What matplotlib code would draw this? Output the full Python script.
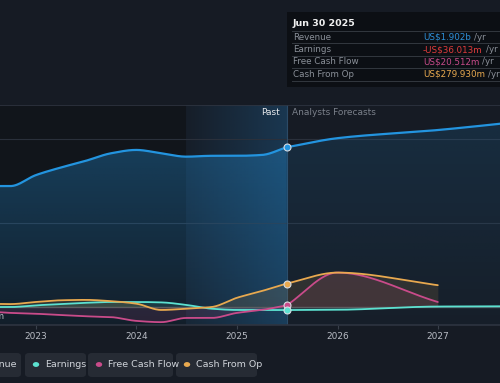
import numpy as np
import pandas as pd
import matplotlib
matplotlib.use("Agg")
import matplotlib.pyplot as plt
import matplotlib.dates as mdates
from matplotlib.colors import to_rgb
from matplotlib.patches import Rectangle, FancyBboxPatch, Circle

# values in US$ billions
past_dates = ["2022-06-30", "2022-09-30", "2022-12-31", "2023-03-31", "2023-06-30",
              "2023-09-30", "2023-12-31", "2024-03-31", "2024-06-30", "2024-09-30",
              "2024-12-31", "2025-03-31", "2025-06-30"]
revenue_past = [1.44, 1.44, 1.57, 1.66, 1.74, 1.83, 1.87, 1.83, 1.79, 1.80, 1.80, 1.81, 1.902]
earnings_past = [0.0, 0.0, 0.02, 0.035, 0.05, 0.06, 0.06, 0.055, 0.025, -0.02, -0.035, -0.035, -0.036]
fcf_past = [-0.05, -0.07, -0.08, -0.095, -0.11, -0.12, -0.165, -0.18, -0.13, -0.13, -0.07, -0.035, 0.0205]
cfo_past = [0.04, 0.035, 0.06, 0.08, 0.085, 0.07, 0.04, -0.035, -0.02, 0.0, 0.11, 0.19, 0.2799]

fc_dates = ["2025-06-30", "2025-12-31", "2026-12-31", "2027-12-31"]
revenue_fc = [1.902, 2.01, 2.107, 2.23]
earnings_fc = [-0.036, -0.033, 0.006, 0.01]
fcf_fc = [0.0205, 0.41, 0.06]
cfo_fc = [0.2799, 0.41, 0.26]

years = [2023, 2024, 2025, 2026, 2027]

BG = "#161b24"
PAST_BG = "#11151b"
C_REV = "#2394df"
C_EAR = "#5ce1d0"
C_FCF = "#c94b8a"
C_CFO = "#e8a94f"
GRID = "#2a303b"


def num(ds):
    return mdates.date2num(pd.to_datetime(ds))


def smooth(x, y, n=300):
    # monotone cubic, same look as the site's curves
    x = np.asarray(x, float)
    y = np.asarray(y, float)
    h = np.diff(x)
    d = np.diff(y) / h
    m = np.zeros_like(y)
    m[0], m[-1] = d[0], d[-1]
    for i in range(1, len(y) - 1):
        if d[i - 1] * d[i] <= 0:
            m[i] = 0
        else:
            m[i] = 3 * (h[i - 1] + h[i]) / ((2 * h[i] + h[i - 1]) / d[i - 1] + (h[i] + 2 * h[i - 1]) / d[i])
    xs = np.linspace(x[0], x[-1], n)
    k = np.clip(np.searchsorted(x, xs) - 1, 0, len(x) - 2)
    t = (xs - x[k]) / h[k]
    ys = ((2 * t**3 - 3 * t**2 + 1) * y[k] + (t**3 - 2 * t**2 + t) * h[k] * m[k]
          + (-2 * t**3 + 3 * t**2) * y[k + 1] + (t**3 - t**2) * h[k] * m[k + 1])
    return xs, ys


x_lo = num("2022-08-23")
x_hi = num("2027-08-14")
y_lo, y_hi = -0.214, 2.405

fig = plt.figure(figsize=(5, 3.83), dpi=100)
fig.patch.set_facecolor(BG)
ax = fig.add_axes([0, 58 / 383, 1, 220 / 383])
ax.set_facecolor(BG)

xp = num(past_dates)
xf_all = num(fc_dates)
split = num("2025-06-30")
band0 = num("2024-06-30")

ax.axvspan(x_lo, band0, color=PAST_BG, zorder=0, lw=0)

# highlighted last-year band
band = np.zeros((1, 100, 4))
band[..., :3] = to_rgb("#1f5a88")
band[..., 3] = np.linspace(0.05, 0.45, 100)
ax.imshow(band, aspect="auto", extent=[band0, split, y_lo, y_hi], zorder=0.5, interpolation="bilinear")

for v in [1.0, 2.0]:
    ax.axhline(v, color=GRID, lw=0.8, zorder=0.6)


def grad_fill(xs, ys, color, a_top, a_bot):
    poly = ax.fill(np.r_[xs, xs[::-1]], np.r_[ys, np.full_like(ys, y_lo)],
                   facecolor="none", edgecolor="none")[0]
    img = np.zeros((100, 1, 4))
    img[..., :3] = to_rgb(color)
    img[..., 3] = np.linspace(a_top, a_bot, 100)[:, None]
    im = ax.imshow(img, aspect="auto", extent=[xs[0], xs[-1], y_lo, y_hi],
                   zorder=1, interpolation="bilinear")
    im.set_clip_path(poly)


# revenue
sx, sy = smooth(xp, revenue_past)
grad_fill(sx, sy, C_REV, 0.38, 0.08)
ax.plot(sx, sy, color=C_REV, lw=1.6, zorder=4, solid_capstyle="round")
fx, fy = smooth(xf_all, revenue_fc)
grad_fill(fx, fy, C_REV, 0.16, 0.03)
ax.plot(fx, fy, color=C_REV, lw=1.6, zorder=4, solid_capstyle="round")

ax.axhline(0, color="#4a505a", lw=1.0, zorder=1.5)

# other series
for past, fc, col in [(earnings_past, earnings_fc, C_EAR),
                      (fcf_past, fcf_fc, C_FCF),
                      (cfo_past, cfo_fc, C_CFO)]:
    px, py = smooth(xp, past)
    ax.fill_between(px, py, 0, color=col, alpha=0.13, lw=0, zorder=2)
    ax.plot(px, py, color=col, lw=1.3, zorder=3, solid_capstyle="round")
    qx, qy = smooth(xf_all[:len(fc)], fc)
    ax.fill_between(qx, qy, 0, color=col, alpha=0.12, lw=0, zorder=2)
    ax.plot(qx, qy, color=col, lw=1.3, zorder=3, solid_capstyle="round")

# markers at the last reported point
for val, col in [(revenue_past[-1], C_REV), (cfo_past[-1], C_CFO),
                 (fcf_past[-1], C_FCF), (earnings_past[-1], C_EAR)]:
    ax.plot([split], [val], "o", ms=5, mfc=col, mec="#d8dde3", mew=0.8, zorder=6)

ax.axvline(split, color="#2c4a66", lw=0.8, zorder=0.7)
ax.axhline(y_hi, color="#2e3440", lw=1.2, zorder=0.7)

ax.text(num("2025-06-06"), 2.31, "Past", color="#e6e8eb", fontsize=6.5, ha="right", va="center")
ax.text(num("2025-07-20"), 2.31, "Analysts Forecasts", color="#7a808a", fontsize=6.5, ha="left", va="center")

ax.set_xlim(x_lo, x_hi)
ax.set_ylim(y_lo, y_hi)
ax.set_xticks(num([f"{y}-01-01" for y in years]))
ax.set_xticklabels([str(y) for y in years])
ax.tick_params(axis="x", colors="#3a404b", length=3, width=0.8, labelsize=6.5,
               labelcolor="#b8bcc4", pad=2)
ax.set_yticks([])
for s in ["top", "left", "right"]:
    ax.spines[s].set_visible(False)
ax.spines["bottom"].set_color("#2e3440")
ax.spines["bottom"].set_linewidth(1.2)

W, H = 500, 383


def fx_(px):
    return px / W


def fy_(py):
    return 1 - py / H


# y label sits mostly off the left edge, as in the reference
fig.text(fx_(5), fy_(316), "-US$200m", color="#b8bcc4", fontsize=6.5, ha="right", va="center")

# tooltip box
fig.patches.append(Rectangle((fx_(287), fy_(87)), fx_(220), 75 / H, transform=fig.transFigure,
                             facecolor="#0c0f14", edgecolor="none", zorder=5))
fig.text(fx_(293), fy_(23), "Jun 30 2025", color="#f0f0f0", fontsize=6.8, fontweight="bold",
         va="center", zorder=6)
for ly in [31, 43, 56, 68, 81]:
    fig.add_artist(plt.Line2D([fx_(292), fx_(500)], [fy_(ly), fy_(ly)], transform=fig.transFigure,
                              color="#33383f", lw=0.7, zorder=6))
rows = [("Revenue", "US$1.902b", "#2e8fd8", 37),
        ("Earnings", "-US$36.013m", "#e03c3c", 49.5),
        ("Free Cash Flow", "US$20.512m", "#c94b8a", 62),
        ("Cash From Op", "US$279.930m", "#e8a94f", 74.5)]
fig.canvas.draw()
rend = fig.canvas.get_renderer()
for label, val, col, ry in rows:
    fig.text(fx_(293), fy_(ry), label, color="#8a8f98", fontsize=6.3, va="center", zorder=6)
    t = fig.text(fx_(423), fy_(ry), val, color=col, fontsize=6.3, va="center", zorder=6)
    bb = t.get_window_extent(rend)
    fig.text(bb.x1 / W + fx_(3), fy_(ry), "/yr", color="#8a8f98", fontsize=6.3, va="center", zorder=6)

# legend buttons (first one runs off the left edge)
legend = [("Revenue", C_REV, -45, 21), ("Earnings", C_EAR, 25, 86),
          ("Free Cash Flow", C_FCF, 88, 173), ("Cash From Op", C_CFO, 176, 257)]
for name, col, x0, x1 in legend:
    fig.patches.append(FancyBboxPatch((fx_(x0), fy_(377)), fx_(x1 - x0), 24 / H,
                                      boxstyle="round,pad=0,rounding_size=0.008",
                                      transform=fig.transFigure, facecolor="#262b34",
                                      edgecolor="none"))
    fig.patches.append(Circle((fx_(x0 + 11), fy_(364.5)), 3.2 / W, transform=fig.transFigure,
                              facecolor=col, edgecolor="none"))
    fig.text(fx_(x0 + 20), fy_(364.5), name, color="#d0d4da", fontsize=6.8, va="center")

fig.savefig("out.png", dpi=100, facecolor=BG)
